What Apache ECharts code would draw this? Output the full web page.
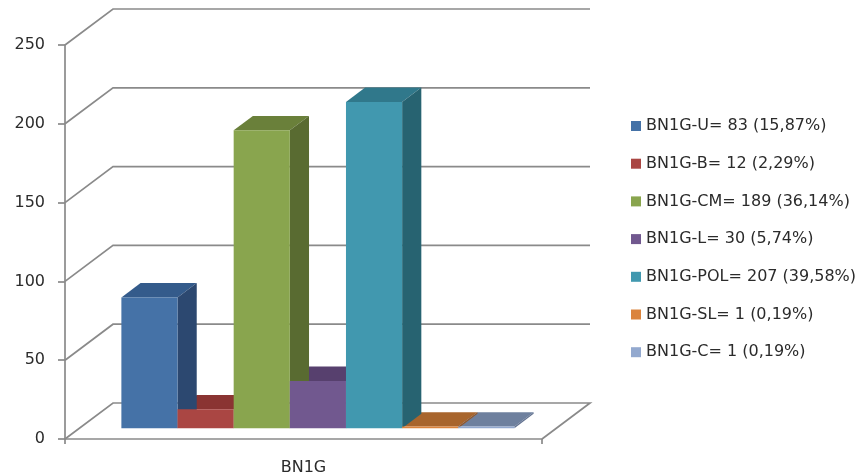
<!DOCTYPE html>
<html>
<head>
<meta charset="utf-8">
<script src="https://cdn.jsdelivr.net/npm/echarts@6/dist/echarts.min.js"></script>
<style>
html,body{margin:0;padding:0;background:#fff;}
#chart{width:861px;height:476px;}
</style>
</head>
<body>
<div id="chart"></div>
<script>
// ---- data ----
const categories = ['BN1G'];
const seriesNames = [
  'BN1G-U= 83 (15,87%)',
  'BN1G-B= 12 (2,29%)',
  'BN1G-CM= 189 (36,14%)',
  'BN1G-L= 30 (5,74%)',
  'BN1G-POL= 207 (39,58%)',
  'BN1G-SL= 1 (0,19%)',
  'BN1G-C= 1 (0,19%)'
];
const seriesValues = [83, 12, 189, 30, 207, 1, 1];
const yTicks = [0, 50, 100, 150, 200, 250];

// ---- styles ----
const frontColors = ['#4572A7', '#AA4643', '#89A54E', '#71588F', '#4198AF', '#DB843D', '#93A9CF'];
const topColors   = ['#345B8B', '#8A3432', '#6A803A', '#57406E', '#30788B', '#A8652D', '#6E809E'];
const sideColors  = ['#2C4870', '#76302D', '#596B31', '#4B3861', '#276371', '#94582A', '#627290'];
const legendColors = ['#4572A7', '#AA4643', '#89A54E', '#71588F', '#4198AF', '#DB843D', '#93A9CF'];

const DX = 48, DY = 36;       // full depth offset of the floor / walls
const FRONT = 0.3, BAR_D = 0.4; // bar front position and bar depth (fraction of full depth)
const GROUP = 0.824;          // fraction of the category band used by the bars
const FONT = 'DejaVu Sans';
const TEXT = '#2b2b2b';
const GRID_COLOR = '#8a8a8a';
const LW = 1.7;

const chart = echarts.init(document.getElementById('chart'), null, {renderer: 'canvas'});

function wallRender(params, api) {
  const v = api.value(1);
  const p = api.coord([0, v]);
  const cs = params.coordSys;
  const x0 = cs.x, x1 = cs.x + cs.width, y = p[1];
  const pts = [[x0, y], [x0 + DX, y - DY], [x1 + DX, y - DY]];
  if (v === 0) pts.push([x1, y]);
  return {
    type: 'polyline',
    shape: {points: pts},
    style: {stroke: GRID_COLOR, lineWidth: LW, fill: null},
    silent: true
  };
}

function makeBarRender(s) {
  return function (params, api) {
    const cat = api.value(0);
    const v = api.value(1);
    const base = api.coord([cat, 0]);
    const tp = api.coord([cat, v]);
    const band = api.size([1, 0])[0];
    const groupW = band * GROUP;
    const bw = groupW / seriesValues.length;
    const x0 = base[0] - groupW / 2 + s * bw + DX * FRONT;
    const yb = base[1] - DY * FRONT;
    const yt = tp[1] - DY * FRONT;
    const ddx = DX * BAR_D, ddy = DY * BAR_D;
    return {
      type: 'group',
      children: [
        {
          type: 'polygon', z2: 1,
          shape: {points: [[x0, yt], [x0 + bw, yt], [x0 + bw + ddx, yt - ddy], [x0 + ddx, yt - ddy]]},
          style: {fill: topColors[s]}
        },
        {
          type: 'polygon', z2: 2,
          shape: {points: [[x0 + bw, yb], [x0 + bw, yt], [x0 + bw + ddx, yt - ddy], [x0 + bw + ddx, yb - ddy]]},
          style: {fill: sideColors[s]}
        },
        {
          type: 'rect', z2: 3,
          shape: {x: x0, y: yt, width: bw, height: yb - yt},
          style: {fill: frontColors[s]}
        }
      ]
    };
  };
}

const series = [{
  type: 'custom',
  name: '__walls',
  z: 1,
  silent: true,
  renderItem: wallRender,
  data: yTicks.map(v => [0, v])
}];
seriesNames.forEach((name, s) => {
  series.push({
    type: 'custom',
    name: name,
    z: 2,
    itemStyle: {color: legendColors[s]},
    renderItem: makeBarRender(s),
    data: [[0, seriesValues[s]]]
  });
});

chart.setOption({
  animation: false,
  backgroundColor: '#ffffff',
  grid: {left: 65, top: 45, width: 477, bottom: 37, containLabel: false},
  xAxis: {
    type: 'category',
    data: categories,
    boundaryGap: true,
    axisLine: {show: true, lineStyle: {color: GRID_COLOR, width: LW}},
    axisTick: {show: true, length: 5, lineStyle: {color: GRID_COLOR, width: LW}},
    axisLabel: {margin: 21, fontFamily: FONT, fontSize: 16, color: TEXT},
    splitLine: {show: false}
  },
  yAxis: {
    type: 'value',
    min: 0, max: 250, interval: 50,
    axisLine: {show: true, lineStyle: {color: GRID_COLOR, width: LW}},
    axisTick: {show: true, length: 7, lineStyle: {color: GRID_COLOR, width: LW}},
    axisLabel: {margin: 20, fontFamily: FONT, fontSize: 16, color: TEXT},
    splitLine: {show: false}
  },
  legend: {
    data: seriesNames,
    orient: 'vertical',
    left: 626,
    top: 113,
    icon: 'rect',
    itemWidth: 10,
    itemHeight: 10,
    itemGap: 21.7,
    textStyle: {fontFamily: FONT, fontSize: 16, color: TEXT, lineHeight: 16},
    selectedMode: false
  },
  series: series
});
</script>
</body>
</html>
